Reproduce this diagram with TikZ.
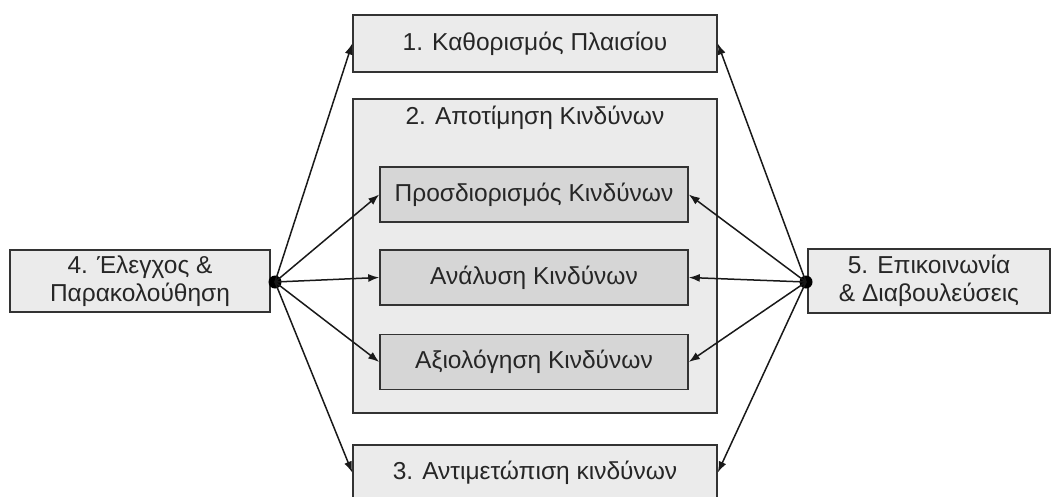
\documentclass[tikz,border=0pt]{standalone}
\usepackage{fontspec}
\setmainfont{Liberation Sans}
\usetikzlibrary{arrows.meta}
\definecolor{lightbox}{HTML}{EBEBEB}
\definecolor{darkbox}{HTML}{D6D6D6}
\begin{document}
\begin{tikzpicture}[x=1pt,y=-1pt,
  every node/.style={font=\fontsize{24.5}{28}\selectfont, text=black!85},
  outerbox/.style={draw=black!80, line width=1.6pt, fill=lightbox, inner sep=0pt, rectangle, align=center},
  innerbox/.style={draw=black!80, line width=1.6pt, fill=darkbox, inner sep=0pt, rectangle, minimum width=308pt, minimum height=55pt},
  conn/.style={line width=1.5pt, black!90, -{Latex[length=11pt,width=8pt]}},
  hub/.style={circle, fill=black, inner sep=0pt, minimum size=13pt}
]
\useasboundingbox (0,0) rectangle (1057,496);
\node[outerbox, minimum width=364pt, minimum height=57pt] (b1) at (535,43.5) {1. Καθορισμός Πλαισίου};
\node[outerbox, minimum width=364pt, minimum height=314pt] (b2) at (535,256) {};
\node (b2t) at (535,118) {2. Αποτίμηση Κινδύνων};
\node[innerbox] (p) at (534,194.5) {Προσδιορισμός Κινδύνων};
\node[innerbox] (a) at (534,277.5) {Ανάλυση Κινδύνων};
\node[innerbox] (e) at (534,362) {Αξιολόγηση Κινδύνων};
\node[outerbox, minimum width=364pt, minimum height=55pt] (b3) at (535,472.5) {3. Αντιμετώπιση κινδύνων};
\node[outerbox, minimum width=260pt, minimum height=62pt] (b4) at (140,281) {4. Έλεγχος \&\\Παρακολούθηση};
\node[outerbox, minimum width=242pt, minimum height=64pt] (b5) at (929,281) {5. Επικοινωνία\\\& Διαβουλεύσεις};
\node[hub] (hl) at (275,282) {};
\node[hub] (hr) at (806,282) {};
\draw[conn] (hl.center) -- (b1.west);
\draw[conn] (hl.center) -- (p.west);
\draw[conn] (hl.center) -- (a.west);
\draw[conn] (hl.center) -- (e.west);
\draw[conn] (hl.center) -- (b3.west);
\draw[conn] (hr.center) -- (b1.east);
\draw[conn] (hr.center) -- (p.east);
\draw[conn] (hr.center) -- (a.east);
\draw[conn] (hr.center) -- (e.east);
\draw[conn] (hr.center) -- (b3.east);
\end{tikzpicture}
\end{document}
